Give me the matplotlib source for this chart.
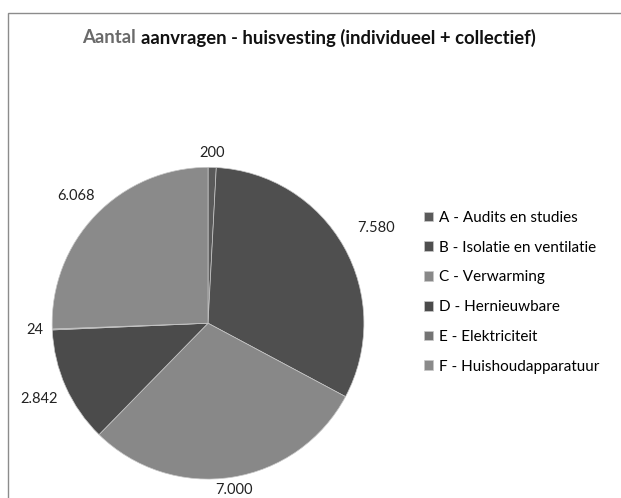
import matplotlib
matplotlib.use("Agg")
import matplotlib.pyplot as plt
from matplotlib.patches import Rectangle
import numpy as np

# data
categories = ["A - Audits en studies", "B - Isolatie en ventilatie", "C - Verwarming",
              "D - Hernieuwbare", "E - Elektriciteit", "F - Huishoudapparatuur"]
values = [200, 7580, 7000, 2842, 24, 6068]
colors = ["#5a5a5a", "#4f4f4f", "#888888", "#4b4b4b", "#747474", "#8a8a8a"]
label_dist = [1.09, 1.24, 1.08, 1.19, 1.11, 1.18]

plt.rcParams['font.family'] = ['Lato', 'DejaVu Sans']

fig = plt.figure(figsize=(6.21, 4.98), dpi=100)

# kader rond de grafiek
fig.patches.append(Rectangle((0.013, -0.02), 1.0, 0.994, transform=fig.transFigure,
                             fill=False, edgecolor="#8c8c8c", linewidth=1.0))

ax = fig.add_axes([0.084, 0.038, 0.502, 0.626])
wedges, _ = ax.pie(values, colors=colors, startangle=90, counterclock=False,
                   wedgeprops=dict(edgecolor="#c8c8c8", linewidth=0.5))
ax.set_xlim(-1, 1)
ax.set_ylim(-1, 1)
ax.set_aspect("auto")
ax.axis("off")

# waardelabels (Nederlandse duizendtallen)
for w, v, d in zip(wedges, values, label_dist):
    ang = np.deg2rad((w.theta1 + w.theta2) / 2)
    txt = f"{v:,}".replace(",", ".")
    ax.text(d * np.cos(ang), d * np.sin(ang), txt, ha="center", va="center",
            fontsize=10.5, color="#222222", clip_on=False)

fig.legend(wedges, categories, loc="center left", bbox_to_anchor=(0.683, 0.413),
           frameon=False, fontsize=11, handlelength=0.6, handleheight=0.6,
           handletextpad=0.4, labelspacing=1.03, borderpad=0, borderaxespad=0)

# titel: "Aantal" grijs, rest zwart
t1 = fig.text(0, 0.924, "Aantal ", color="#6a6a6a", fontsize=13.3, fontweight="bold", va="center")
t2 = fig.text(0, 0.924, "aanvragen - huisvesting (individueel + collectief)", color="#111111",
              fontsize=13.3, fontweight="bold", va="center")
fig.canvas.draw()
r = fig.canvas.get_renderer()
w1 = t1.get_window_extent(r).width / fig.bbox.width
w2 = t2.get_window_extent(r).width / fig.bbox.width
x0 = 309 / 621 - (w1 + w2) / 2
t1.set_x(x0)
t2.set_x(x0 + w1)

fig.savefig("out.png", dpi=100)
